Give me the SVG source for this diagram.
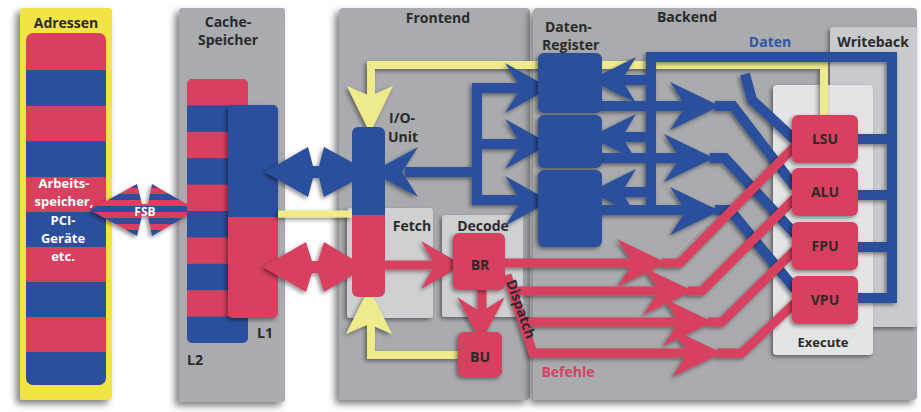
<svg xmlns="http://www.w3.org/2000/svg" width="921" height="412" viewBox="0 0 921 412">
<defs>
<style>
.t{font-family:"Open Sans","Liberation Sans",sans-serif;font-weight:700;font-size:14px;fill:#2a2a2a}
.tc{text-anchor:middle}
.w{fill:#fff;font-size:13px}
.gp{fill:#a9abae}
.lb{fill:#cfd0d2}
.red{fill:#d8415f}
.blue{fill:#2b4f9c}
.sb{fill:none;stroke:#2b4f9c;stroke-width:10;stroke-linejoin:miter}
.sr{fill:none;stroke:#d8415f;stroke-width:9;stroke-linejoin:miter}
.sy{fill:none;stroke:#efeb8c;stroke-width:8;stroke-linejoin:miter}
.hy{fill:#efeb8c}
</style>
<filter id="ps" x="-20%" y="-10%" width="140%" height="125%"><feDropShadow dx="-4" dy="4" stdDeviation="3.5" flood-color="#000" flood-opacity="0.5"/></filter>
<filter id="ss" x="-20%" y="-20%" width="140%" height="140%"><feDropShadow dx="-2" dy="2" stdDeviation="2" flood-color="#000" flood-opacity="0.45"/></filter>
<pattern id="fsb" patternUnits="userSpaceOnUse" x="0" y="182" width="10" height="12"><rect width="10" height="6" fill="#2b4f9c"/><rect y="6" width="10" height="6" fill="#d8415f"/></pattern>
<clipPath id="cA"><rect x="26" y="33" width="80" height="352" rx="7"/></clipPath>
<clipPath id="cL2"><rect x="187" y="79" width="61" height="264" rx="5"/></clipPath>
<clipPath id="cL1"><rect x="228" y="105" width="50" height="213" rx="5"/></clipPath>
<clipPath id="cIO"><rect x="352" y="127" width="33" height="170" rx="6"/></clipPath>
</defs>
<rect width="921" height="412" fill="#fff"/>

<g id="panels">
<g id="adressen" filter="url(#ps)">
<rect x="20" y="8" width="92" height="392" rx="3" fill="#f3e445"/>
</g>
<g id="cache" filter="url(#ps)"><rect x="179" y="8" width="106" height="394" rx="3" class="gp"/></g>
<g id="frontend" filter="url(#ps)"><rect x="339" y="8" width="191" height="392" rx="4" class="gp"/></g>
<g id="backend" filter="url(#ps)"><rect x="533" y="8" width="384" height="392" rx="4" class="gp"/></g>
<g id="writeback" filter="url(#ss)"><rect x="830" y="27" width="87" height="300" rx="3" fill="#c9cacd"/></g>
<g id="execute" filter="url(#ss)"><rect x="773" y="85" width="100" height="270" rx="4" fill="#e3e4e5"/></g>
<g id="fetch" filter="url(#ss)"><rect x="347" y="208" width="86" height="110" rx="3" class="lb"/></g>
<g id="decode" filter="url(#ss)"><rect x="442" y="215" width="81" height="102" rx="3" class="lb"/></g>
</g>

<g id="labels">
<text class="t tc" x="66" y="28">Adressen</text>
<text class="t tc" x="228" y="27">Cache-</text>
<text class="t tc" x="228" y="45">Speicher</text>
<text class="t tc" x="438" y="23">Frontend</text>
<text class="t tc" x="687" y="22">Backend</text>
<text class="t" x="545" y="32">Daten-</text>
<text class="t" x="542" y="50">Register</text>
<text class="t tc" x="770" y="47" style="fill:#2f56a6">Daten</text>
<text class="t tc" x="873" y="47">Writeback</text>
<text class="t tc" x="412" y="231">Fetch</text>
<text class="t tc" x="483" y="231">Decode</text>
<text class="t tc" x="823" y="347" style="font-size:13px">Execute</text>
<text class="t tc" x="568" y="377" style="fill:#d8415f">Befehle</text>
</g>

<g id="speicher">
<g clip-path="url(#cA)" filter="url(#ss)">
<rect x="26" y="33" width="80" height="352" fill="#d8415f"/>
<rect x="26" y="70" width="80" height="36" fill="#2b4f9c"/>
<rect x="26" y="141" width="80" height="36" fill="#2b4f9c"/>
<rect x="26" y="212" width="80" height="35" fill="#2b4f9c"/>
<rect x="26" y="282" width="80" height="35" fill="#2b4f9c"/>
<rect x="26" y="352" width="80" height="33" fill="#2b4f9c"/>
</g>
<text class="t tc w" x="64" y="188">Arbeits-</text>
<text class="t tc w" x="64" y="206">speicher,</text>
<text class="t tc w" x="63" y="225">PCI-</text>
<text class="t tc w" x="63" y="243">Geräte</text>
<text class="t tc w" x="63" y="261">etc.</text>
</g>

<g id="fsb">
<polygon points="90,210 137,184 142,204 148,204 152,184 197,210 152,236 148,216 142,216 137,236" fill="url(#fsb)" filter="url(#ss)"/>
<text class="t tc" x="145" y="216" style="font-size:12px;fill:#fff">FSB</text>
</g>

<g id="l2" clip-path="url(#cL2)" filter="url(#ss)">
<rect x="187" y="79" width="61" height="264" fill="#d8415f"/>
<rect x="187" y="105.4" width="61" height="26.4" fill="#2b4f9c"/>
<rect x="187" y="158.2" width="61" height="26.4" fill="#2b4f9c"/>
<rect x="187" y="211" width="61" height="26.4" fill="#2b4f9c"/>
<rect x="187" y="263.8" width="61" height="26.4" fill="#2b4f9c"/>
<rect x="187" y="316.6" width="61" height="26.4" fill="#2b4f9c"/>
</g>
<g id="l1" filter="url(#ss)">
<g clip-path="url(#cL1)">
<rect x="228" y="105" width="50" height="112" fill="#2b4f9c"/>
<rect x="228" y="217" width="50" height="101" fill="#d8415f"/>
</g>
</g>
<text class="t tc" x="265" y="338">L1</text>
<text class="t tc" x="195" y="365">L2</text>

<g id="connectors">
<g id="yellow" filter="url(#ss)">
<polyline class="sy" points="371,96 371,65 824,65 824,116"/>
<polygon class="hy" points="370,133 347,86 370,96 393,86"/>
<line class="sy" x1="278" y1="214" x2="352" y2="214" style="stroke-width:7"/>
<polyline class="sy" points="459,355 371,355 371,322"/>
<polygon class="hy" points="369,288 346,334 369,324 392,334"/>
</g>
<g id="blue" filter="url(#ss)">
<polygon class="blue" points="265,172 308,147 313,166 319,166 324,147 370,172 324,197 319,178 313,178 308,197"/>
<polyline class="sb" points="405,172 477,172"/>
<polygon class="blue" points="372,172 418,147 402,172 418,197"/>
<polyline class="sb" points="525,88 477,88 477,205"/>
<polyline class="sb" points="477,144 525,144"/>
<polyline class="sb" points="477,200 525,200"/>
<polygon class="blue" points="550,88 505,63 521,88 505,113"/>
<polygon class="blue" points="550,144 505,119 521,144 505,169"/>
<polygon class="blue" points="550,201 505,176 521,201 505,226"/>
<polyline class="sb" points="651,213 651,57 892,57 892,303"/>
<line class="sb" x1="858" y1="139" x2="897" y2="139"/>
<line class="sb" x1="858" y1="195" x2="897" y2="195"/>
<line class="sb" x1="858" y1="247" x2="897" y2="247"/>
<line class="sb" x1="858" y1="298" x2="897" y2="298"/>
<line class="sb" x1="620" y1="80" x2="651" y2="80"/>
<line class="sb" x1="620" y1="137" x2="651" y2="137"/>
<line class="sb" x1="620" y1="192" x2="651" y2="192"/>
<polygon class="blue" points="590,80 636,57 622,80 636,103"/>
<polygon class="blue" points="590,137 636,114 622,137 636,160"/>
<polygon class="blue" points="590,192 636,169 622,192 636,215"/>
<polyline class="sb" points="600,106 690,106"/>
<polyline class="sb" points="600,158 684,158"/>
<polyline class="sb" points="600,210 690,210"/>
<polygon class="blue" points="720,106 670,82 686,106 670,130"/>
<polygon class="blue" points="714,158 664,134 680,158 664,182"/>
<polygon class="blue" points="720,211 670,187 686,211 670,235"/>
<polyline class="sb" points="715,106 733,106 795,187"/>
<polyline class="sb" points="710,158 725,158 795,234"/>
<polyline class="sb" points="715,210 730,210 795,289"/>
<polyline class="sb" points="745,74 752,100 795,140"/>
</g>
<g id="red" filter="url(#ss)">
<polygon class="red" points="263,267 306,242 312,261 318,261 324,242 366,267 324,292 318,273 312,273 306,292"/>
<line class="sr" x1="385" y1="265" x2="440" y2="265"/>
<polygon class="red" points="463,265 421,241 435,265 421,289"/>
<line class="sr" x1="482" y1="288" x2="482" y2="315"/>
<polygon class="red" points="481,342 457,297 481,312 505,297"/>
<line class="sr" x1="503" y1="263" x2="640" y2="263"/>
<polyline class="sr" points="507,275 533,353 695,353"/>
<line class="sr" x1="512" y1="291" x2="665" y2="291"/>
<line class="sr" x1="522" y1="322" x2="685" y2="322"/>
<polygon class="red" points="667,263 617,239 633,263 617,287"/>
<polygon class="red" points="693,291 643,267 659,291 643,315"/>
<polygon class="red" points="713,322 663,298 679,322 663,346"/>
<polygon class="red" points="722,353 672,329 688,353 672,377"/>
<polyline class="sr" points="662,263 680,263 795,146"/>
<polyline class="sr" points="688,291 702,291 795,198"/>
<polyline class="sr" points="708,322 722,322 795,250"/>
<polyline class="sr" points="717,353 742,353 795,303"/>
</g>
</g>

<g id="io-unit">
<g clip-path="url(#cIO)" filter="url(#ss)">
<rect x="352" y="127" width="33" height="88" fill="#2b4f9c"/>
<rect x="352" y="215" width="33" height="82" fill="#d8415f"/>
</g>
<text class="t" x="389" y="123">I/O-</text>
<text class="t" x="388" y="142">Unit</text>
</g>

<g id="register" filter="url(#ss)">
<rect x="538" y="53" width="64" height="60" rx="6" class="blue"/>
<rect x="538" y="115" width="64" height="53" rx="6" class="blue"/>
<rect x="538" y="170" width="64" height="77" rx="6" class="blue"/>
</g>
<g id="br"><rect x="453" y="233" width="52" height="57" rx="6" class="red" filter="url(#ss)"/><text class="t tc" x="480" y="270">BR</text></g>
<g id="bu"><rect x="458" y="332" width="44" height="45" rx="6" class="red" filter="url(#ss)"/><text class="t tc" x="480" y="362">BU</text></g>
<text class="t tc" transform="translate(521,309) rotate(70.5)" y="5">Dispatch</text>

<g id="lsu"><rect x="792" y="115" width="66" height="48" rx="6" class="red" filter="url(#ss)"/><text class="t tc" x="825" y="144">LSU</text></g>
<g id="alu"><rect x="792" y="168" width="66" height="48" rx="6" class="red" filter="url(#ss)"/><text class="t tc" x="825" y="197">ALU</text></g>
<g id="fpu"><rect x="792" y="222" width="66" height="48" rx="6" class="red" filter="url(#ss)"/><text class="t tc" x="825" y="251">FPU</text></g>
<g id="vpu"><rect x="792" y="276" width="66" height="48" rx="6" class="red" filter="url(#ss)"/><text class="t tc" x="825" y="305">VPU</text></g>
</svg>
